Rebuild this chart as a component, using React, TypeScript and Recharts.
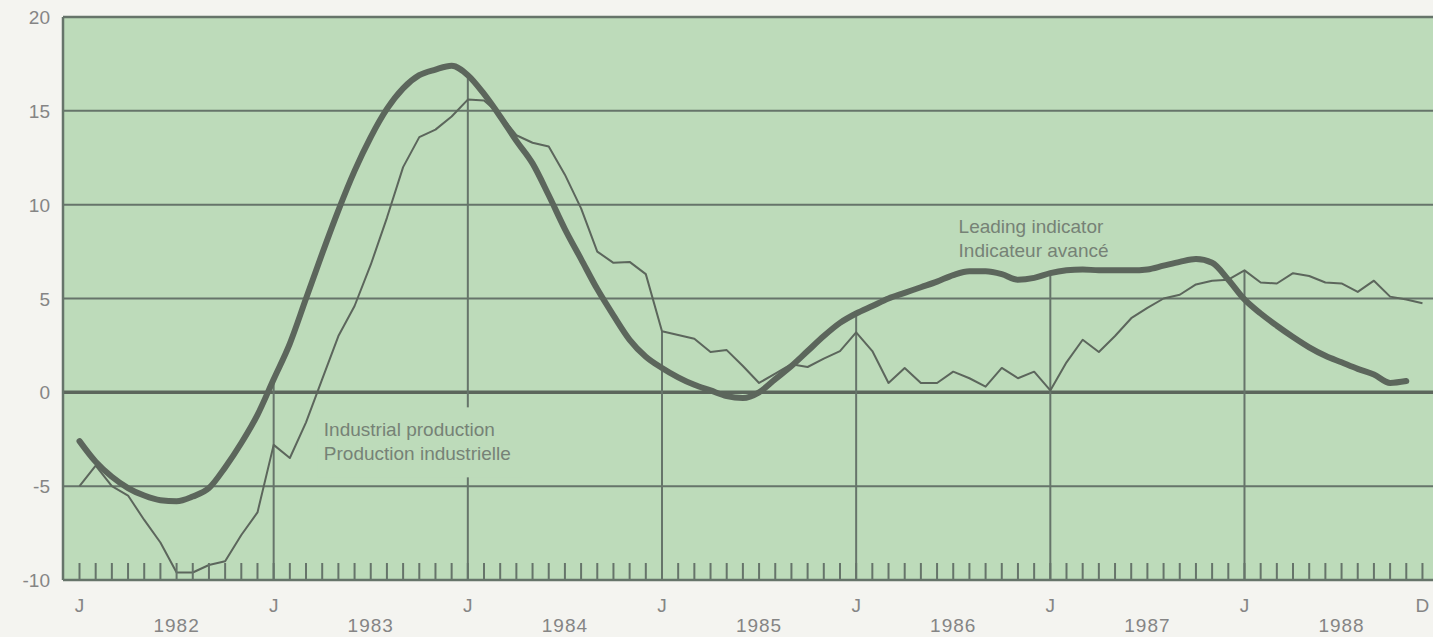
import React from "react";
import {
  LineChart,
  Line,
  XAxis,
  YAxis,
  CartesianGrid,
  ReferenceLine,
  ReferenceDot,
} from "recharts";

// Month index 0 = January 1982 ... 83 = December 1988
const leadingIndicator: (number | null)[] = [
  -2.6, -3.7, -4.5, -5.1, -5.5, -5.75, -5.8, -5.55, -5.1, -4.0, -2.7, -1.2,
  0.7, 2.6, 5.0, 7.4, 9.7, 11.8, 13.6, 15.1, 16.2, 16.9, 17.2, 17.4,
  16.9, 15.9, 14.7, 13.4, 12.2, 10.5, 8.7, 7.1, 5.5, 4.1, 2.8, 1.9,
  1.3, 0.8, 0.4, 0.1, -0.2, -0.3, 0.0, 0.7, 1.4, 2.2, 3.0, 3.7,
  4.2, 4.6, 5.0, 5.3, 5.6, 5.9, 6.25, 6.45, 6.45, 6.3, 6.0, 6.1,
  6.35, 6.5, 6.55, 6.5, 6.5, 6.5, 6.55, 6.75, 6.95, 7.1, 6.9, 6.0,
  4.95, 4.2, 3.55, 2.95, 2.4, 1.95, 1.6, 1.25, 0.95, 0.5, 0.6, null,
];

const industrialProduction: number[] = [
  -5.0, -3.9, -5.0, -5.5, -6.8, -8.0, -9.6, -9.6, -9.2, -9.0, -7.6, -6.4,
  -2.8, -3.5, -1.6, 0.7, 3.0, 4.6, 6.8, 9.3, 12.0, 13.6, 14.0, 14.7,
  15.6, 15.55, 14.8, 13.7, 13.3, 13.1, 11.6, 9.8, 7.5, 6.9, 6.95, 6.3,
  3.25, 3.05, 2.85, 2.15, 2.25, 1.4, 0.5, 1.0, 1.5, 1.35, 1.8, 2.2,
  3.2, 2.2, 0.5, 1.3, 0.5, 0.5, 1.1, 0.75, 0.3, 1.3, 0.75, 1.1,
  0.1, 1.6, 2.8, 2.15, 3.0, 3.95, 4.5, 5.0, 5.2, 5.75, 5.95, 6.0,
  6.5, 5.85, 5.8, 6.35, 6.2, 5.85, 5.8, 5.35, 5.95, 5.1, 4.95, 4.75,
];

const years: string[] = ["1982", "1983", "1984", "1985", "1986", "1987", "1988"];
const yTicks: number[] = [-10, -5, 0, 5, 10, 15, 20];
const monthIndex: number[] = industrialProduction.map((_, i) => i);
const januaryDropLines: number[] = [12, 24, 36, 48, 60, 72];

const data = monthIndex.map((m) => ({
  m,
  lead: leadingIndicator[m],
  prod: industrialProduction[m],
}));

const GREEN = "#bddbba";
const LINE = "#5c665c";
const GRID = "#66746a";
const AXIS_TEXT = "#858585";
const PLOT_TEXT = "#768276";
const FONT = "'Liberation Sans', Arial, Helvetica, sans-serif";

const XTick = (props: any) => {
  const { x, y, payload } = props;
  const m: number = payload.value;
  let top: string | null = null;
  if (m % 12 === 0) top = "J";
  if (m === 83) top = "D";
  const year = m % 12 === 6 ? years[Math.floor(m / 12)] : null;
  return (
    <g>
      <line x1={x} x2={x} y1={y} y2={y - 17} stroke={GRID} strokeWidth={2} />
      {top && (
        <text x={x} y={y + 32} textAnchor="middle" fill={AXIS_TEXT} fontSize={19} fontFamily={FONT}>
          {top}
        </text>
      )}
      {year && (
        <text x={x} y={y + 52} textAnchor="middle" fill={AXIS_TEXT} fontSize={19} fontFamily={FONT} letterSpacing={1}>
          {year}
        </text>
      )}
    </g>
  );
};

const YTick = (props: any) => {
  const { x, y, payload } = props;
  return (
    <text x={x} y={y} dy={7} textAnchor="end" fill={AXIS_TEXT} fontSize={19} fontFamily={FONT}>
      {String(payload.value)}
    </text>
  );
};

// Label block anchored at a data point; cx/cy is its top-left data anchor
const IndustrialLabel = (props: any) => {
  const { cx, cy } = props;
  return (
    <g fontFamily={FONT} fontSize={19} fill={PLOT_TEXT}>
      <rect x={cx - 6} y={cy} width={205} height={70} fill={GREEN} />
      <text x={cx} y={cy + 29}>Industrial production</text>
      <text x={cx} y={cy + 53}>Production industrielle</text>
    </g>
  );
};

const LeadingLabel = (props: any) => {
  const { cx, cy } = props;
  return (
    <g fontFamily={FONT} fontSize={19} fill={PLOT_TEXT}>
      <text x={cx} y={cy}>Leading indicator</text>
      <text x={cx} y={cy + 24}>Indicateur avancé</text>
    </g>
  );
};

export default function App() {
  return (
    <div
      style={{
        position: "fixed",
        left: 0,
        top: 0,
        width: 1433,
        height: 637,
        overflow: "hidden",
        background: "#f4f4f0",
      }}
    >
      <LineChart
        width={1460}
        height={637}
        data={data}
        margin={{ top: 17, right: 0, left: 0, bottom: 0 }}
      >
        <CartesianGrid
          vertical={false}
          stroke={GRID}
          strokeWidth={2}
          fill={GREEN}
          fillOpacity={1}
        />
        <XAxis
          type="number"
          dataKey="m"
          domain={[-1.02, 85.32]}
          ticks={monthIndex}
          interval={0}
          tick={<XTick />}
          tickLine={false}
          tickSize={0}
          tickMargin={0}
          axisLine={{ stroke: GRID, strokeWidth: 2.5 }}
          height={57}
          allowDataOverflow
        />
        <YAxis
          type="number"
          domain={[-10, 20]}
          ticks={yTicks}
          interval={0}
          tick={<YTick />}
          tickLine={false}
          tickSize={0}
          tickMargin={13}
          axisLine={{ stroke: GRID, strokeWidth: 2.5 }}
          width={63}
          allowDataOverflow
        />
        <ReferenceLine y={20} stroke={GRID} strokeWidth={2.5} />
        <ReferenceLine y={0} stroke={LINE} strokeWidth={3.5} />
        {januaryDropLines.map((m) => (
          <ReferenceLine
            key={m}
            segment={[
              { x: m, y: -10 },
              { x: m, y: Math.max(leadingIndicator[m] ?? -10, industrialProduction[m]) },
            ]}
            stroke={GRID}
            strokeWidth={2}
          />
        ))}
        <ReferenceDot x={15.1} y={-0.8} r={1} shape={<IndustrialLabel />} />
        <ReferenceDot x={54.33} y={8.5} r={1} shape={<LeadingLabel />} />
        <Line
          type="linear"
          dataKey="prod"
          stroke={LINE}
          strokeWidth={2}
          dot={false}
          isAnimationActive={false}
          strokeLinejoin="round"
        />
        <Line
          type="monotone"
          dataKey="lead"
          stroke={LINE}
          strokeWidth={6}
          dot={false}
          isAnimationActive={false}
          strokeLinecap="round"
          strokeLinejoin="round"
        />
      </LineChart>
    </div>
  );
}
